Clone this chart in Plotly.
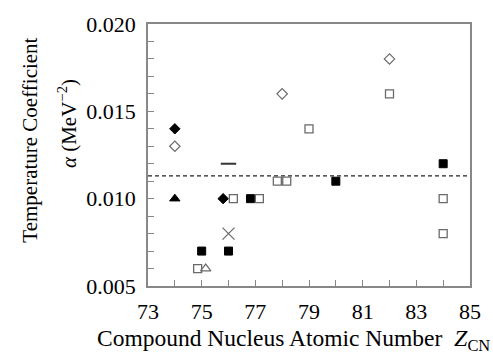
import plotly.graph_objects as go

# Temperature coefficient alpha versus compound-nucleus atomic number Z_CN
filled_square_z = [75, 76, 76.82, 80, 84]
filled_square_a = [0.007, 0.007, 0.010, 0.011, 0.012]

open_square_z = [74.85, 76.18, 77.15, 77.82, 78.17, 79, 82, 84, 84]
open_square_a = [0.006, 0.010, 0.010, 0.011, 0.011, 0.014, 0.016, 0.010, 0.008]

filled_diamond_z = [74, 75.8]
filled_diamond_a = [0.014, 0.010]

open_diamond_z = [74, 78, 82]
open_diamond_a = [0.013, 0.016, 0.018]

filled_triangle_z = [74]
filled_triangle_a = [0.010]

open_triangle_z = [75.15]
open_triangle_a = [0.006]

cross_z = [76]
cross_a = [0.008]

dash_z = [76]
dash_a = [0.012]

mean_alpha = 0.0113
z_range = [73, 85]
alpha_range = [0.005, 0.020]

FONT = "Liberation Serif"
GRAY = "#6a6a6a"

fig = go.Figure()

def add(z, a, symbol, size, color, line_color, line_width=1.2):
    fig.add_trace(go.Scatter(
        x=z, y=a, mode="markers", showlegend=False,
        marker=dict(symbol=symbol, size=size, color=color,
                    line=dict(color=line_color, width=line_width)),
    ))

# reference level
fig.add_trace(go.Scatter(
    x=z_range, y=[mean_alpha, mean_alpha], mode="lines", showlegend=False,
    line=dict(color="#222", width=1.2, dash="4px,3px"),
))

add(filled_square_z, filled_square_a, "square", 8, "black", "black", 1)
add(open_square_z, open_square_a, "square-open", 8, GRAY, GRAY, 1.3)
add(filled_diamond_z, filled_diamond_a, "diamond", 8, "black", "black", 1)
add(open_diamond_z, open_diamond_a, "diamond-open", 8, GRAY, GRAY, 1.2)
add(filled_triangle_z, filled_triangle_a, "triangle-up", 9, "black", "black", 1)
add(open_triangle_z, open_triangle_a, "triangle-up-open", 9, GRAY, GRAY, 1.2)
add(cross_z, cross_a, "x-thin-open", 12, GRAY, GRAY, 1.3)
add(dash_z, dash_a, "line-ew-open", 11, "#333", "#333", 2)

axis_common = dict(
    showline=True, mirror=True, linecolor="#888", linewidth=1.5,
    ticks="inside", ticklen=6, tickcolor="#888", tickwidth=1,
    showgrid=False, zeroline=False,
    tickfont=dict(family=FONT, size=22, color="black"),
)

fig.update_xaxes(range=z_range, tick0=73, dtick=2, ticklabelstandoff=5,
                 minor=dict(dtick=1, ticks="inside", ticklen=6, tickcolor="#888"),
                 **axis_common)
fig.update_yaxes(range=alpha_range, tick0=0.005, dtick=0.005, tickformat=".3f",
                 ticklabelstandoff=6,
                 minor=dict(dtick=0.001, ticks="inside", ticklen=6, tickcolor="#888"),
                 **axis_common)

L, R, T, B = 148, 13, 15, 74
W, H = 493, 360
pw = W - L - R
ph = H - T - B

def px(xp):
    return (xp - L) / pw

def py(yp):
    return (H - B - yp) / ph

fig.add_annotation(text="Temperature Coefficient", textangle=-90,
                   xref="paper", yref="paper", x=px(26), y=py(135),
                   xanchor="center", yanchor="middle", showarrow=False,
                   font=dict(family=FONT, size=21, color="black"))
fig.add_annotation(text="<i>α</i> (MeV<sup>−2</sup>)", textangle=-90,
                   xref="paper", yref="paper", x=px(65), y=py(118),
                   xanchor="center", yanchor="middle", showarrow=False,
                   font=dict(family=FONT, size=21, color="black"))
fig.add_annotation(
    text="Compound Nucleus Atomic Number&nbsp;&nbsp;"
         "<span style='font-size:24px'><i>Z</i></span><sub>CN</sub>",
    xref="paper", yref="paper", x=px(93), y=py(342),
    xanchor="left", yanchor="middle", showarrow=False,
    font=dict(family=FONT, size=23.5, color="black"))

fig.update_layout(
    width=W, height=H,
    margin=dict(l=L, r=R, t=T, b=B),
    paper_bgcolor="white", plot_bgcolor="white",
    font=dict(family=FONT, size=21, color="black"),
)

fig.write_html("out.html")
